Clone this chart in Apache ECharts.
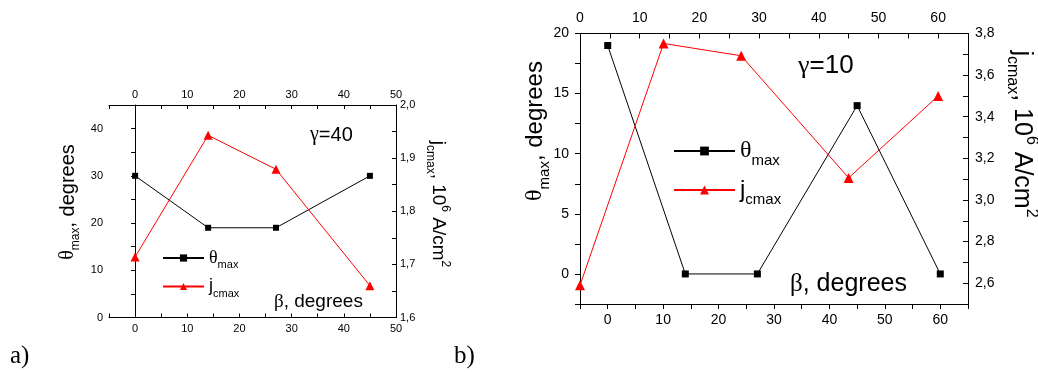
<!DOCTYPE html>
<html>
<head>
<meta charset="utf-8">
<script src="https://cdn.jsdelivr.net/npm/echarts@6/dist/echarts.min.js"></script>
<style>
  html, body { margin: 0; background: #fff; }
  #chart { width: 1038px; height: 373px; }
</style>
</head>
<body>
<div id="chart"></div>
<script>
// panel a), gamma = 40
var betaA = [0, 14, 27, 45];
var thetaA = [30, 19, 19, 30];
var jcA = [1.714, 1.943, 1.879, 1.660];

// panel b), gamma = 10
var betaB = [0, 14, 27, 45, 60];
var thetaB = [19, 0, 0, 14, 0];
var jcB = [2.59, 3.752, 3.693, 3.106, 3.50];

// ticks / labels
var betaTicksA = [-5, 0, 5, 10, 15, 20, 25, 30, 35, 40, 45, 50];
var betaLabelsA = [0, 10, 20, 30, 40, 50];
var thetaTicksA = [0, 5, 10, 15, 20, 25, 30, 35, 40, 45];
var thetaLabelsA = [0, 10, 20, 30, 40];
var jcTicksA = [1.6, 1.65, 1.7, 1.75, 1.8, 1.85, 1.9, 1.95, 2.0];
var jcLabelsA = [1.6, 1.7, 1.8, 1.9, 2.0];

var betaTicksB = [-5, 0, 5, 10, 15, 20, 25, 30, 35, 40, 45, 50, 55, 60, 65];
var betaTopTicksB = [0, 5, 10, 15, 20, 25, 30, 35, 40, 45, 50, 55, 60, 65];
var betaLabelsB = [0, 10, 20, 30, 40, 50, 60];
var thetaTicksB = [-2.5, 0, 2.5, 5, 7.5, 10, 12.5, 15, 17.5, 20];
var thetaLabelsB = [0, 5, 10, 15, 20];
var jcTicksB = [2.5, 2.6, 2.7, 2.8, 2.9, 3.0, 3.1, 3.2, 3.3, 3.4, 3.5, 3.6, 3.7, 3.8];
var jcLabelsB = [2.6, 2.8, 3.0, 3.2, 3.4, 3.6, 3.8];

var sans = 'Liberation Sans';
var serif = 'Liberation Serif';

function pair(xs, ys) {
  return xs.map(function (x, i) { return [x, ys[i]]; });
}
function comma(v) {
  return v.toFixed(1).replace('.', ',');
}

// rich styles for sub/superscripts
function rich(size) {
  var small = Math.round(size * 0.62);
  return {
    g: { fontFamily: serif, fontSize: size, lineHeight: Math.round(size * 1.4), fill: '#000', color: '#000' },
    t: { fontFamily: sans, fontSize: size, lineHeight: Math.round(size * 1.4), fill: '#000', color: '#000' },
    sub: { fontFamily: sans, fontSize: small, lineHeight: small, verticalAlign: 'bottom', fill: '#000', color: '#000' },
    sup: { fontFamily: sans, fontSize: small, lineHeight: small, verticalAlign: 'top', fill: '#000', color: '#000' }
  };
}

function axis(grid, pos, min, max, ticks, labels, s) {
  return {
    type: 'value',
    gridIndex: grid,
    position: pos,
    min: min,
    max: max,
    axisLine: { show: true, onZero: false, lineStyle: { color: '#000', width: 1 } },
    axisTick: { show: true, inside: s.inside, length: s.len, customValues: ticks, lineStyle: { color: '#000' } },
    axisLabel: { show: true, customValues: labels, margin: s.margin, color: '#000',
                 fontFamily: sans, fontSize: s.size, formatter: s.fmt },
    splitLine: { show: false }
  };
}

var xA0 = axis(0, 'bottom', -5, 50, betaTicksA, betaLabelsA, { inside: true, len: 4, margin: 6, size: 11 });
var xA1 = axis(0, 'top', -5, 50, betaTicksA, betaLabelsA, { inside: true, len: 4, margin: 5, size: 11 });
var yA0 = axis(0, 'left', 0, 45, thetaTicksA, thetaLabelsA, { inside: false, len: 4, margin: 6, size: 11 });
yA0.axisLine.onZero = true;
yA0.axisLine.onZeroAxisIndex = 0;
var yA1 = axis(0, 'right', 1.6, 2.0, jcTicksA, jcLabelsA, { inside: true, len: 4, margin: 4, size: 11, fmt: comma });

var xB0 = axis(1, 'bottom', -5, 65, betaTicksB, betaLabelsB, { inside: false, len: 5, margin: 9, size: 14 });
var xB1 = axis(1, 'top', 0, 65, betaTopTicksB, betaLabelsB, { inside: true, len: 5, margin: 8, size: 14 });
var yB0 = axis(1, 'left', -2.5, 20, thetaTicksB, thetaLabelsB, { inside: false, len: 5, margin: 11, size: 14 });
var yB1 = axis(1, 'right', 2.5, 3.8, jcTicksB, jcLabelsB, { inside: true, len: 5, margin: 7, size: 14, fmt: comma });

var names = {
  thA: '{g|θ}{sub|max}', jA: '{t|j}{sub|cmax}',
  thB: '{g|θ}{sub|max}', jB: '{t|j}{sub|cmax}'
};

function line(name, xi, yi, data, color, sym, size) {
  return {
    name: name, type: 'line', xAxisIndex: xi, yAxisIndex: yi, data: data,
    symbol: sym, symbolSize: size,
    lineStyle: { color: color, width: 1 },
    itemStyle: { color: color },
    animation: false
  };
}

var option = {
  animation: false,
  grid: [
    { left: 109, top: 105, width: 287, height: 212.5 },
    { left: 580, top: 33.5, width: 388, height: 270.5 }
  ],
  xAxis: [xA0, xA1, xB0, xB1],
  yAxis: [yA0, yA1, yB0, yB1],
  legend: [
    {
      data: ['thA', 'jA'], orient: 'vertical', left: 162, top: 249, padding: 0,
      itemWidth: 41, itemHeight: 9, itemGap: 7, selectedMode: false,
      formatter: function (n) { return names[n]; },
      textStyle: { rich: rich(18) }
    },
    {
      data: ['thB', 'jB'], orient: 'vertical', left: 673, top: 139, padding: 0,
      itemWidth: 61, itemHeight: 11, itemGap: 10, selectedMode: false,
      formatter: function (n) { return names[n]; },
      textStyle: { rich: rich(24) }
    }
  ],
  series: [
    line('thA', 0, 0, pair(betaA, thetaA), '#000', 'rect', 6),
    line('jA', 1, 1, pair(betaA, jcA), '#ff0000', 'triangle', 9),
    line('thB', 2, 2, pair(betaB, thetaB), '#000', 'rect', 7),
    line('jB', 3, 3, pair(betaB, jcB), '#ff0000', 'triangle', 10)
  ],
  graphic: [
    { type: 'text', x: 10, y: 356, style: { text: 'a)', font: '25px ' + serif, fill: '#000', verticalAlign: 'middle' } },
    { type: 'text', x: 454, y: 356, style: { text: 'b)', font: '25px ' + serif, fill: '#000', verticalAlign: 'middle' } },
    // panel a texts
    { type: 'text', x: 310, y: 135, style: { text: '{g|γ}{t|=40}', rich: rich(20), verticalAlign: 'middle' } },
    { type: 'text', x: 274, y: 302, style: { text: '{g|β}{t|, degrees}', rich: rich(19), verticalAlign: 'middle' } },
    { type: 'text', x: 68, y: 202, rotation: Math.PI / 2,
      style: { text: '{g|θ}{sub|max}{t|, degrees}', rich: rich(20), align: 'center', verticalAlign: 'middle' } },
    { type: 'text', x: 438, y: 204, rotation: -Math.PI / 2,
      style: { text: '{t|j}{sub|cmax}{t|, 10}{sup|6}{t| A/cm}{sup|2}', rich: rich(19), align: 'center', verticalAlign: 'middle' } },
    // panel b texts
    { type: 'text', x: 798, y: 66, style: { text: '{g|γ}{t|=10}', rich: rich(26), verticalAlign: 'middle' } },
    { type: 'text', x: 790, y: 284, style: { text: '{g|β}{t|, degrees}', rich: rich(25), verticalAlign: 'middle' } },
    { type: 'text', x: 535, y: 131, rotation: Math.PI / 2,
      style: { text: '{g|θ}{sub|max}{t|, degrees}', rich: rich(24), align: 'center', verticalAlign: 'middle' } },
    { type: 'text', x: 1022, y: 134, rotation: -Math.PI / 2,
      style: { text: '{t|j}{sub|cmax}{t|, 10}{sup|6}{t| A/cm}{sup|2}', rich: rich(25), align: 'center', verticalAlign: 'middle' } }
  ]
};

var chart = echarts.init(document.getElementById('chart'), null, { renderer: 'canvas' });
chart.setOption(option);
</script>
</body>
</html>
